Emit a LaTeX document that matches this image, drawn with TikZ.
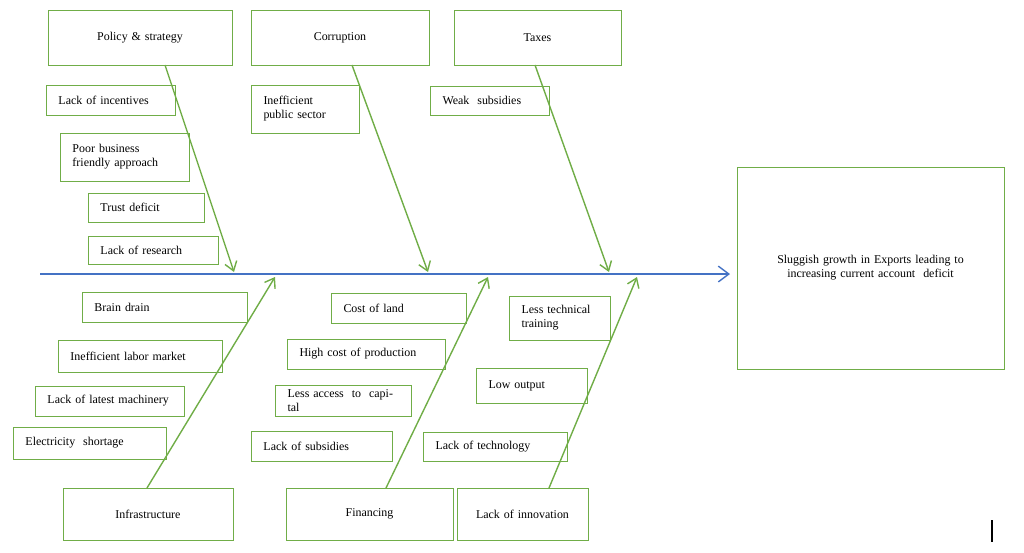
\documentclass[tikz,border=0pt]{standalone}
\usepackage{fontspec}
\setmainfont{Liberation Serif}
\usetikzlibrary{arrows.meta}
\definecolor{gr}{RGB}{112,173,71}
\definecolor{bl}{RGB}{68,114,196}
\newcommand\mybox[7]{% name,x1,y1,x2,y2,align,text
  \pgfmathsetmacro\cx{(#2+#4)/2}\pgfmathsetmacro\cy{(#3+#5)/2}
  \pgfmathsetmacro\ww{(#4-#2)*0.02}\pgfmathsetmacro\hh{(#5-#3)*0.02}
  \pgfmathsetmacro\tw{(#4-#2)*0.02-0.5}
  \node[bx,minimum width=\ww cm,minimum height=\hh cm,text width=\tw cm,align=#6] (#1) at (\cx,\cy) {#7};}
\begin{document}
\begin{tikzpicture}[x=0.02cm,y=-0.02cm,
  bx/.style={draw=gr,line width=0.5pt,inner sep=0pt,font=\fontsize{6.8}{8}\selectfont},
  bone/.style={draw=gr,line width=0.8pt,-{Straight Barb[length=5pt,width=7pt]}}]
\useasboundingbox (0,0) rectangle (1024,552);
\mybox{ps}{48}{10}{232}{65}{center}{Policy \& strategy}
\mybox{co}{251}{10}{429}{65}{center}{Corruption}
\mybox{tx}{454}{10}{621}{65}{center}{Taxes}
\mybox{ef}{737}{167}{1004}{369}{center}{Sluggish growth in Exports leading to\\increasing current account\ \ deficit}
\mybox{a1}{46}{85}{175}{115}{left}{Lack of incentives}
\mybox{a2}{60}{133}{189}{181}{left}{Poor business\\friendly approach}
\mybox{a3}{88}{193}{204}{222}{left}{Trust deficit}
\mybox{a4}{88}{236}{218}{264}{left}{Lack of research}
\mybox{b1}{251}{85}{359}{133}{left}{Inefficient\\public sector}
\mybox{c1}{430}{86}{549}{115}{left}{Weak\ \ subsidies}
\mybox{d1}{82}{292}{247}{322}{left}{Brain drain}
\mybox{d2}{58}{340}{222}{372}{left}{Inefficient labor market}
\mybox{d3}{35}{386}{184}{416}{left}{Lack of latest machinery}
\mybox{d4}{13}{427}{166}{459}{left}{Electricity\ \ shortage}
\mybox{e1}{331}{293}{466}{323}{left}{Cost of land}
\mybox{e2}{287}{339}{445}{369}{left}{High cost of production}
\mybox{e3}{275}{385}{411}{416}{left}{Less access\ \ to\ \ capital}
\mybox{e4}{251}{431}{392}{461}{left}{Lack of subsidies}
\mybox{f1}{509}{296}{610}{340}{left}{Less technical\\training}
\mybox{f2}{476}{368}{587}{403}{left}{Low output}
\mybox{f3}{423}{432}{567}{461}{left}{Lack of technology}
\mybox{in}{63}{488}{233}{540}{center}{Infrastructure}
\mybox{fi}{286}{488}{453}{540}{center}{Financing}
\mybox{li}{457}{488}{588}{540}{center}{Lack of innovation}
\coordinate (s0) at (40,274); \coordinate (s1) at (730,274);
\draw[bl,line width=0.8pt,-{Straight Barb[length=6pt,width=9pt]}] (s0) -- (s1);
\coordinate (p1) at (165,65); \coordinate (p2) at (234,272);
\coordinate (q1) at (352,65); \coordinate (q2) at (428,272);
\coordinate (r1) at (535,65); \coordinate (r2) at (609,272);
\coordinate (u1) at (147,488); \coordinate (u2) at (275,277);
\coordinate (v1) at (386,488); \coordinate (v2) at (488,277);
\coordinate (w1) at (549,488); \coordinate (w2) at (637,277);
\draw[bone] (p1) -- (p2);
\draw[bone] (q1) -- (q2);
\draw[bone] (r1) -- (r2);
\draw[bone] (u1) -- (u2);
\draw[bone] (v1) -- (v2);
\draw[bone] (w1) -- (w2);
\coordinate (m1) at (992,520); \coordinate (m2) at (992,542);
\draw[line width=0.8pt] (m1) -- (m2);
\end{tikzpicture}
\end{document}
